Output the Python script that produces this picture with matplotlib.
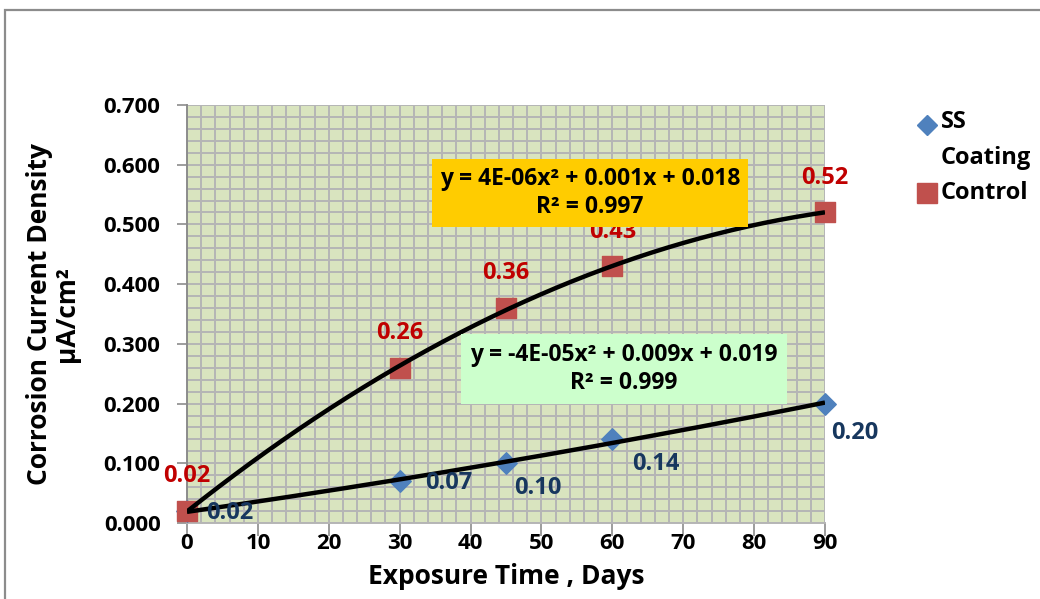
import matplotlib
matplotlib.use("Agg")
import matplotlib.pyplot as plt
import matplotlib.patches as mpatches
from matplotlib.lines import Line2D
import numpy as np

plt.rcParams["font.family"] = ["Open Sans", "DejaVu Sans"]
plt.rcParams["font.weight"] = "bold"

# data
days = [0, 30, 45, 60, 90]
ss_coating = [0.02, 0.07, 0.10, 0.14, 0.20]
control = [0.02, 0.26, 0.36, 0.43, 0.52]
ss_labels = ["0.02", "0.07", "0.10", "0.14", "0.20"]
control_labels = ["0.02", "0.26", "0.36", "0.43", "0.52"]
eq_yellow = "y = 4E-06x\u00b2 + 0.001x + 0.018\nR\u00b2 = 0.997"
eq_green = "y = -4E-05x\u00b2 + 0.009x + 0.019\nR\u00b2 = 0.999"

# label placement (points), as the labels sit in the original chart
ss_label_offsets = [(31, -1.5), (35, -1.5), (23, -18), (31, -18), (21.5, -21)]

BLUE = "#4f81bd"
RED = "#c0504d"
RED_TXT = "#c00000"
NAVY_TXT = "#17375e"

fig = plt.figure(figsize=(10.4, 5.99), dpi=100)
fig.patch.set_facecolor("white")
ax = fig.add_axes([187 / 1040, 1 - 523 / 599, (825 - 187) / 1040, (523 - 105) / 599])
ax.set_facecolor("#d9e4bf")

# outer chart border (cut off right / bottom)
fig.add_artist(mpatches.Rectangle((5 / 1040, -0.1), 1.2, 1.1 - 10 / 599,
                                  transform=fig.transFigure, fill=False,
                                  edgecolor="#8c8c8c", lw=1.6))

ax.set_xlim(0, 90)
ax.set_ylim(0, 0.7)
ax.set_xticks(np.arange(0, 91, 10))
ax.set_xticks(np.arange(0, 91, 2), minor=True)
ax.set_yticks(np.arange(0, 0.71, 0.1))
ax.set_yticks(np.arange(0, 0.71, 0.02), minor=True)
ax.set_yticklabels([f"{v:.3f}" for v in np.arange(0, 0.71, 0.1)])
ax.grid(which="both", color="#b5b5b5", lw=1.4, zorder=0)
ax.set_axisbelow(True)
ax.tick_params(which="minor", length=0)
ax.tick_params(axis="x", which="major", length=9, width=1.2, color="#8c8c8c",
               pad=-2, labelsize=16)
ax.tick_params(axis="y", which="major", length=7, width=1.2, color="#8c8c8c",
               pad=12, labelsize=16)
for s in ["top", "right"]:
    ax.spines[s].set_visible(False)
ax.spines["left"].set_color("#8c8c8c")
ax.spines["left"].set_linewidth(1.4)
ax.spines["bottom"].set_color("#b5b5b5")
ax.spines["bottom"].set_linewidth(1.4)

# markers
ax.scatter(days, ss_coating, marker="D", s=120, color=BLUE, zorder=3, clip_on=False)
ax.scatter(days, control, marker="s", s=210, color=RED, zorder=3, clip_on=False)

# trendlines (2nd order polynomial)
xs = np.linspace(0, 90, 200)
for series in (ss_coating, control):
    coef = np.polyfit(days, series, 2)
    ax.plot(xs, np.polyval(coef, xs), color="black", lw=3.2, zorder=4,
            solid_capstyle="butt")

# data labels
for x, y, t in zip(days, control, control_labels):
    ax.annotate(t, (x, y), xytext=(0, 25), textcoords="offset points",
                ha="center", va="center", color=RED_TXT, fontsize=17,
                fontweight="bold", zorder=5, annotation_clip=False)
for x, y, t, off in zip(days, ss_coating, ss_labels, ss_label_offsets):
    ax.annotate(t, (x, y), xytext=off, textcoords="offset points",
                ha="center", va="center", color=NAVY_TXT, fontsize=17,
                fontweight="bold", zorder=5, annotation_clip=False)

# equation boxes
fig.text(590 / 1040, 1 - 193 / 599, eq_yellow, ha="center", va="center",
         fontsize=16.5, fontweight="bold", linespacing=1.25, zorder=10,
         bbox=dict(boxstyle="square,pad=0.34", facecolor="#ffcc00", edgecolor="none"))
fig.text(624 / 1040, 1 - 369 / 599, eq_green, ha="center", va="center",
         fontsize=16.5, fontweight="bold", linespacing=1.25, zorder=10,
         bbox=dict(boxstyle="square,pad=0.4", facecolor="#ccffcc", edgecolor="none"))

# axis titles
ax.set_xlabel("Exposure Time , Days", fontsize=19, fontweight="bold", labelpad=7)
ax.set_ylabel("Corrosion Current Density\n\u03bcA/cm\u00b2", fontsize=19,
              fontweight="bold", labelpad=17, linespacing=1.0)

# legend (drawn by hand to match the wrapped entry spacing)
fig.add_artist(Line2D([927 / 1040], [1 - 125 / 599], marker="D", ls="none",
                      color=BLUE, markersize=10, transform=fig.transFigure))
fig.add_artist(Line2D([927 / 1040], [1 - 193 / 599], marker="s", ls="none",
                      color=RED, markersize=14, transform=fig.transFigure))
for label, ypix in [("SS", 122), ("Coating", 158), ("Control", 193)]:
    fig.text(941 / 1040, 1 - ypix / 599, label, ha="left", va="center",
             fontsize=17, fontweight="bold")

fig.savefig("out.png", dpi=100, facecolor="white")
